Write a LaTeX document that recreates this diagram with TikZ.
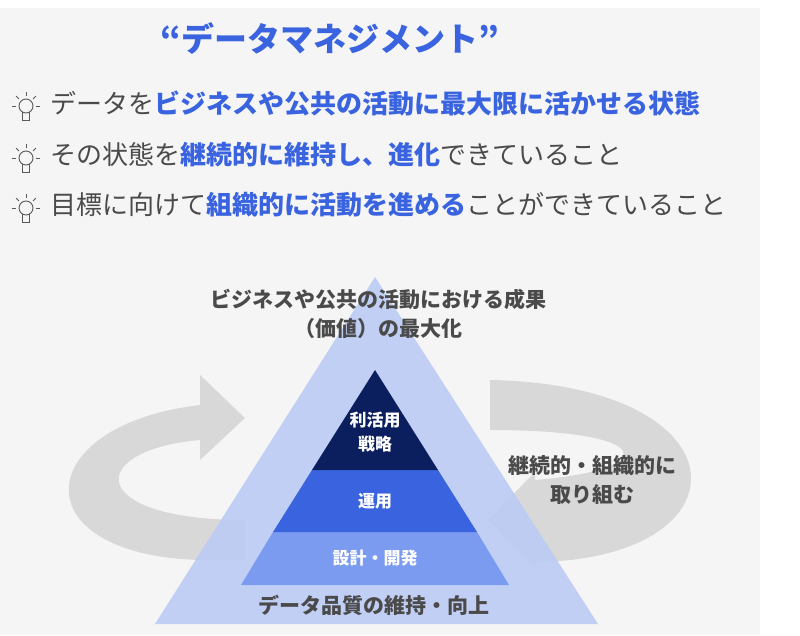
\documentclass[tikz,border=0pt]{standalone}
\usepackage{fontspec}
\setmainfont{Noto Sans CJK JP}
\usetikzlibrary{positioning}
\definecolor{accent}{HTML}{3A63E0}
\definecolor{navy}{HTML}{0B1E5E}
\definecolor{pale}{HTML}{BCCBF5}
\definecolor{mid}{HTML}{7B9BF0}
\definecolor{txt}{HTML}{4A4A4A}
\newcommand{\fs}[1]{\fontsize{#1}{1.4\dimexpr#1pt\relax}\selectfont}
\newcommand{\hl}[1]{\textcolor{accent}{\bfseries #1}}
\tikzset{
  line/.style={font=\fs{26}, text=txt, anchor=west, inner sep=0},
  lbl/.style={font=\fs{21}\bfseries, text=txt, align=center, inner sep=0},
  inlbl/.style={font=\fs{17}\bfseries, text=white, align=center, inner sep=0},
  ribbon/.style={fill=gray!45, opacity=.6},
  bulb/.pic={
    \draw[gray!70!black, line width=.9pt] (0,0) circle (7);
    \draw[gray!70!black, line width=.9pt] (-3.5,6) -- (-3.5,14) -- (3.5,14) -- (3.5,6);
    \foreach \a in {90,135,45,180,0}
      \draw[gray!70!black, line width=.9pt] (\a:-10) -- (\a:-14);
  }
}
\begin{document}
\begin{tikzpicture}[x=1pt,y=-1pt]
\useasboundingbox (0,0) rectangle (800,635);
\fill[gray!8] (0,8) rectangle (760,635);

% heading
\node[font=\fs{33}\bfseries, text=accent] (title) at (330,38) {“データマネジメント”};
\node[line] (l1) at (50,103) {データを\hl{ビジネスや公共の活動に最大限に活かせる状態}};
\node[line] (l2) at (50,155) {その状態を\hl{継続的に維持し、進化}できていること};
\node[line] (l3) at (50,205) {目標に向けて\hl{組織的に活動を進める}ことができていること};
\foreach \n in {l1,l2,l3}
  \pic at ([xshift=-24pt,yshift=-3pt]\n.west) {bulb};

% ribbons
\fill[ribbon] (245,560) -- (200,560) .. controls (20,555) and (30,425) .. (200,405)
  -- (200,375) -- (245,418) -- (200,460) -- (200,440) .. controls (85,450) and (85,520) .. (245,520) -- cycle;
\fill[ribbon] (490,380) .. controls (750,385) and (750,560) .. (535,562)
  -- (535,568) -- (488,520) -- (535,472) -- (535,480) .. controls (660,470) and (660,430) .. (490,430) -- cycle;

% pyramid
\fill[pale, opacity=.9] (375,277) -- (598,624) -- (155,624) -- cycle;
\fill[mid] (241,585) -- (509,585) -- (477,532) -- (273,532) -- cycle;
\fill[accent] (273,532) -- (477,532) -- (438,470) -- (312,470) -- cycle;
\fill[navy] (312,470) -- (438,470) -- (375,370) -- cycle;

\node[lbl] (goal) at (378,314) {ビジネスや公共の活動における成果\\（価値）の最大化};
\node[inlbl] (strat) at (375,432) {利活用\\戦略};
\node[inlbl] (ops) at (375,501) {運用};
\node[inlbl] (dev) at (375,558) {設計・開発};
\node[lbl] (base) at (374,605) {データ品質の維持・向上};
\node[lbl] (cont) at (592,480) {継続的・組織的に\\取り組む};
\end{tikzpicture}
\end{document}
